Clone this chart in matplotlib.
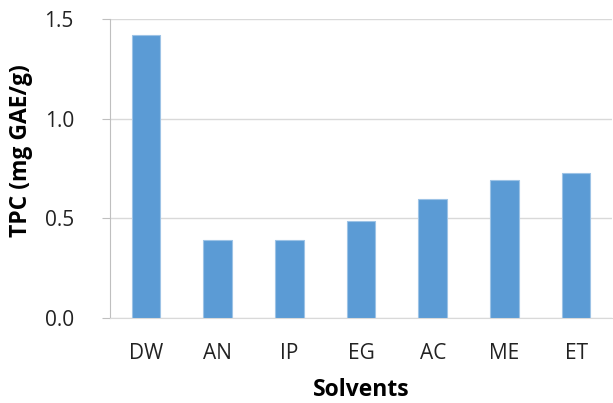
import numpy as np
import matplotlib
matplotlib.use('Agg')
from matplotlib import pyplot as plt

plt.rcParams['font.family'] = ['Open Sans', 'DejaVu Sans']

solvents = ['DW', 'AN', 'IP', 'EG', 'AC', 'ME', 'ET']
tpc = [1.42, 0.39, 0.39, 0.485, 0.597, 0.69, 0.728]
yticks = [0.0, 0.5, 1.0, 1.5]

fig = plt.figure(figsize=(6.13, 4.03), dpi=100)
ax = fig.add_axes([110 / 613, 1 - 318 / 403, 502 / 613, 299 / 403])

x = np.arange(len(solvents))
ax.bar(x, tpc, width=0.4, color='#5B9BD5', edgecolor='#9DC3E6', linewidth=0.8, zorder=3)

ax.set_xlim(-0.5, len(solvents) - 0.5)
ax.set_ylim(0, 1.5)
ax.set_yticks(yticks)
ax.set_yticklabels(['%.1f' % v for v in yticks])
ax.set_xticks(x)
ax.set_xticklabels(solvents)

ax.grid(axis='y', color='#D9D9D9', linewidth=1, zorder=0)
for s in ['top', 'right']:
    ax.spines[s].set_visible(False)
ax.spines['left'].set_color('#BFBFBF')
ax.spines['bottom'].set_color('#D9D9D9')
ax.tick_params(axis='y', length=6, color='#BFBFBF', labelsize=15, pad=20, labelcolor='#222222')
ax.tick_params(axis='x', length=0, labelsize=15, pad=18, labelcolor='#222222')

ax.set_ylabel('TPC (mg GAE/g)', fontsize=16.5, fontweight='bold')
ax.set_xlabel('Solvents', fontsize=16.5, fontweight='bold')
ax.yaxis.set_label_coords(-77 / 502, 0.56)
ax.xaxis.set_label_coords(0.5, -60 / 299)

fig.savefig('out.png', dpi=100)
